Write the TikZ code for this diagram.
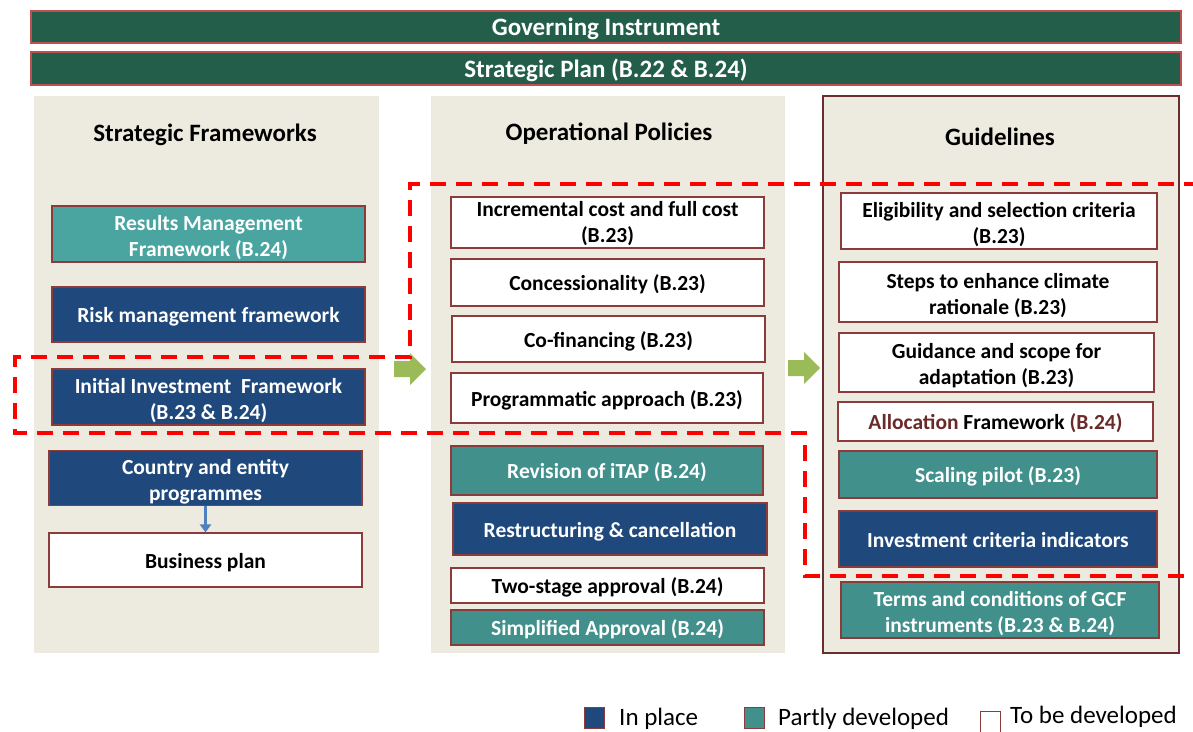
\documentclass[tikz,border=0pt]{standalone}
\usepackage{fontspec}
\setmainfont{Carlito}
\usetikzlibrary{arrows.meta}

\definecolor{govgreen}{HTML}{235E4B}
\definecolor{barborder}{HTML}{C0504D}
\definecolor{colbeige}{HTML}{EDEAE0}
\definecolor{navy}{HTML}{1F497D}
\definecolor{tealA}{HTML}{4AA5A0}
\definecolor{tealB}{HTML}{41908C}
\definecolor{boxborder}{HTML}{8C3B3B}
\definecolor{colborder}{HTML}{6B2E2E}
\definecolor{dashred}{HTML}{FF0000}
\definecolor{arrowgreen}{HTML}{9BBB59}
\definecolor{linkblue}{HTML}{4F81BD}
\definecolor{allocred}{HTML}{6A2A2A}

\newcommand{\boxfont}{\fontsize{21.5}{26}\selectfont\bfseries}
\newcommand{\headfont}{\fontsize{25}{30}\selectfont\bfseries}
\newcommand{\legfont}{\fontsize{25}{29}\selectfont}
\newcommand{\topstrutht}{21.5pt}
\newcommand{\botstrutdp}{5.5pt}

\tikzset{
  top strut/.store in=\topstrutht,
  bottom strut/.store in=\botstrutdp,
  bar/.style={draw=barborder, line width=1.2pt, fill=govgreen, text=white,
    font=\headfont, inner sep=0pt, top strut=23pt, bottom strut=6pt},
  column/.style={fill=colbeige, draw=none},
  colhead/.style={font=\headfont, text=black, inner sep=0pt},
  item/.style={draw=boxborder, line width=1.1pt, align=center, inner sep=0pt,
    font=\boxfont, top strut=21.5pt, bottom strut=5.5pt},
  twoline/.style={top strut=23.5pt},
  inplace/.style={item, fill=navy, text=white},
  partly/.style={item, fill=tealB, text=white},
  tobe/.style={item, fill=white, text=black},
  region/.style={draw=dashred, line width=3.6pt, dash pattern=on 16pt off 10pt},
  blockarrow/.style={fill=arrowgreen},
  legsq/.style={draw=boxborder, line width=1.1pt, inner sep=0pt,
    minimum width=20pt, minimum height=21pt},
  legtext/.style={font=\legfont, anchor=west, inner sep=0pt},
}

% place a box by its top-left and bottom-right corners; struts keep the
% text optically centred
\newcommand{\itembox}[7]{%
  \node[#1, minimum width={#4-#2}, minimum height={#5-#3}]
    (#6) at ({(#2+#4)/2},{(#3+#5)/2})
    {\rule{0pt}{\topstrutht}#7\rule[-\botstrutdp]{0pt}{\botstrutdp}};}

\begin{document}
\begin{tikzpicture}[x=1pt, y=-1pt]
\useasboundingbox (0,0) rectangle (1193,731);

% top bars
\itembox{bar}{31}{11}{1181}{43}{govinst}{Governing Instrument}
\itembox{bar}{31}{52}{1181}{85}{stratplan}{Strategic Plan (B.22 \& B.24)}

% columns
\fill[column] (34,96) rectangle (379,653);
\fill[column] (431,96) rectangle (785,653);
\draw[fill=colbeige, draw=colborder, line width=1.3pt] (823,96) rectangle (1179,653);

\node[colhead] (hframe) at (205,135) {Strategic Frameworks};
\node[colhead] (hpol) at (609,134) {Operational Policies};
\node[colhead] (hguide) at (1000,137) {Guidelines};

% strategic frameworks
\itembox{partly, fill=tealA, twoline}{52}{206}{365}{262}{rmf}{Results Management\\Framework (B.24)}
\itembox{inplace}{52}{287}{365}{342}{risk}{Risk management framework}
\itembox{inplace, twoline}{52}{369}{365}{425}{iif}{Initial Investment\ \ Framework\\(B.23 \& B.24)}
\itembox{inplace, twoline}{49}{451}{362}{505}{country}{Country and entity\\programmes}
\itembox{tobe}{49}{533}{362}{587}{business}{Business plan}
\draw[linkblue, line width=2.4pt, -{Triangle[length=8pt, width=11pt]}]
  (country.south) -- (business.north);

% operational policies
\itembox{tobe, top strut=19pt, bottom strut=6pt}{451}{197}{764}{248}{incr}{Incremental cost and full cost\\(B.23)}
\itembox{tobe}{451}{259}{764}{306}{conc}{Concessionality (B.23)}
\itembox{tobe}{452}{316}{765}{362}{cofin}{Co-financing (B.23)}
\itembox{tobe}{451}{373}{763}{423}{prog}{Programmatic approach (B.23)}
\itembox{partly}{451}{446}{763}{495}{itap}{Revision of iTAP (B.24)}
\itembox{inplace}{453}{503}{767}{555}{restr}{Restructuring \& cancellation}
\itembox{tobe}{451}{568}{764}{603}{twostage}{Two-stage approval (B.24)}
\itembox{partly}{451}{610}{764}{645}{simpl}{Simplified Approval (B.24)}

% guidelines
\itembox{tobe, twoline}{841}{193}{1157}{249}{elig}{Eligibility and selection criteria\\(B.23)}
\itembox{tobe, twoline}{839}{262}{1157}{322}{steps}{Steps to enhance climate\\rationale (B.23)}
\itembox{tobe, twoline}{839}{333}{1154}{392}{adapt}{Guidance and scope for\\adaptation (B.23)}
\itembox{tobe}{838}{402}{1153}{441}{alloc}{\textcolor{allocred}{Allocation} Framework \textcolor{allocred}{(B.24)}}
\itembox{partly}{839}{451}{1157}{498}{scaling}{Scaling pilot (B.23)}
\itembox{inplace}{839}{511}{1157}{567}{icind}{Investment criteria indicators}
\itembox{partly, twoline}{841}{582}{1159}{638}{terms}{Terms and conditions of GCF\\instruments (B.23 \& B.24)}

% block arrows between the columns
\fill[blockarrow] (394,361) -- (410,361) -- (410,353) -- (426,369)
  -- (410,385) -- (410,377) -- (394,377) -- cycle;
\fill[blockarrow] (788,360) -- (804,360) -- (804,352) -- (820,368)
  -- (804,384) -- (804,376) -- (788,376) -- cycle;

% dashed outline around the B.23 items
\draw[region] (1200,184) -- (410,184) -- (410,357) -- (15,357) -- (15,433)
  -- (805,433) -- (805,576) -- (1200,576);

% legend
\node[legsq, fill=navy] (sqin) at (594.5,718) {};
\node[legtext] (txin) at (619,719) {In place};
\node[legsq, fill=tealB] (sqpart) at (754.5,718) {};
\node[legtext] (txpart) at (778,719) {Partly developed};
\node[legsq, fill=white] (sqtobe) at (990.5,722) {};
\node[legtext] (txtobe) at (1010,717) {To be developed};
\end{tikzpicture}
\end{document}
